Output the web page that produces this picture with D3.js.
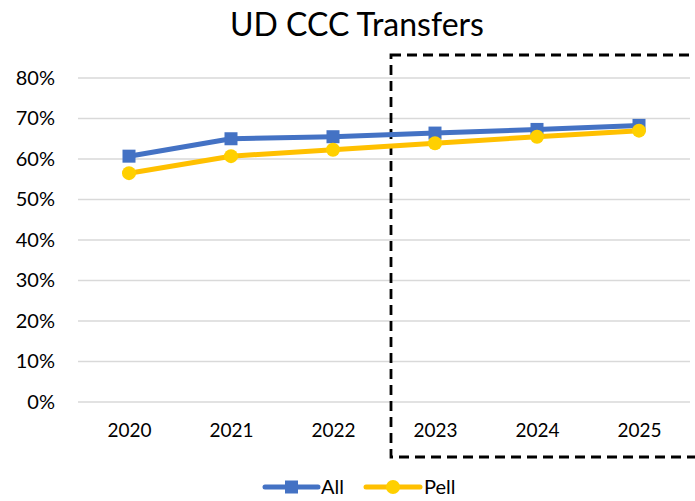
<!DOCTYPE html>
<html>
<head>
<meta charset="utf-8">
<script src="https://cdn.jsdelivr.net/npm/d3@7"></script>
<style>
  body { margin: 0; background: #fff; }
  text { font-family: Lato, "Open Sans", "Liberation Sans", sans-serif; fill: #000; }
</style>
</head>
<body>
<svg width="695" height="501"></svg>
<script>
// chart data
var years = ["2020", "2021", "2022", "2023", "2024", "2025"];
var allValues = [0.607, 0.650, 0.655, 0.664, 0.673, 0.683];
var pellValues = [0.565, 0.607, 0.623, 0.639, 0.655, 0.670];
var yTicks = [0, 0.1, 0.2, 0.3, 0.4, 0.5, 0.6, 0.7, 0.8];
var projectedYears = ["2023", "2024", "2025"];

var svg = d3.select("svg");

var plotLeft = 78, plotRight = 690, plotTop = 78, plotBottom = 402;

var x = d3.scalePoint().domain(years).range([plotLeft, plotRight]).padding(0.5);
var y = d3.scaleLinear().domain([0, 0.8]).range([plotBottom, plotTop]);

// title
svg.append("text")
  .attr("x", 357)
  .attr("y", 36)
  .attr("text-anchor", "middle")
  .style("font-size", "32px")
  .text("UD CCC Transfers");

// gridlines
svg.selectAll(".grid")
  .data(yTicks)
  .enter().append("line")
  .attr("x1", plotLeft)
  .attr("x2", plotRight)
  .attr("y1", d => y(d))
  .attr("y2", d => y(d))
  .attr("stroke", "#d9d9d9")
  .attr("stroke-width", 1.3);

// y axis labels
var yAxis = d3.axisLeft(y).tickValues(yTicks).tickFormat(d3.format(".0%")).tickSize(0).tickPadding(23);
var yg = svg.append("g").attr("transform", "translate(" + plotLeft + ",0)").call(yAxis);
yg.select(".domain").remove();
yg.selectAll("text").style("font-size", "20px").attr("fill", "#000");

// x axis labels
var xAxis = d3.axisBottom(x).tickSize(0).tickPadding(22);
var xg = svg.append("g").attr("transform", "translate(0," + plotBottom + ")").call(xAxis);
xg.select(".domain").remove();
xg.selectAll("text").style("font-size", "19px").attr("fill", "#000");

// dashed box around the projected years
var bandHalf = x.step() / 2;
svg.append("rect")
  .attr("x", x(projectedYears[0]) - bandHalf + 7)
  .attr("y", 55)
  .attr("width", 400)
  .attr("height", 402)
  .attr("fill", "none")
  .attr("stroke", "#000")
  .attr("stroke-width", 2.8)
  .attr("stroke-dasharray", "10,6");

var line = d3.line()
  .x((d, i) => x(years[i]))
  .y(d => y(d));

// All series
svg.append("path")
  .datum(allValues)
  .attr("d", line)
  .attr("fill", "none")
  .attr("stroke", "#4472C4")
  .attr("stroke-width", 5)
  .attr("stroke-linejoin", "round");

svg.selectAll(".allMark")
  .data(allValues)
  .enter().append("rect")
  .attr("x", (d, i) => x(years[i]) - 6.5)
  .attr("y", d => y(d) - 6.5)
  .attr("width", 13)
  .attr("height", 13)
  .attr("fill", "#4472C4");

// Pell series
svg.append("path")
  .datum(pellValues)
  .attr("d", line)
  .attr("fill", "none")
  .attr("stroke", "#FFC000")
  .attr("stroke-width", 5)
  .attr("stroke-linejoin", "round");

svg.selectAll(".pellMark")
  .data(pellValues)
  .enter().append("circle")
  .attr("cx", (d, i) => x(years[i]))
  .attr("cy", d => y(d))
  .attr("r", 7)
  .attr("fill", "#FFD000");

// legend
var legend = svg.append("g").attr("transform", "translate(0,487)");
legend.append("line").attr("x1", 265).attr("x2", 318).attr("stroke", "#4472C4").attr("stroke-width", 5).attr("stroke-linecap", "round");
legend.append("rect").attr("x", 285).attr("y", -6.5).attr("width", 13).attr("height", 13).attr("fill", "#4472C4");
legend.append("text").attr("x", 321).attr("y", 7).style("font-size", "20px").text("All");
legend.append("line").attr("x1", 366).attr("x2", 420).attr("stroke", "#FFC000").attr("stroke-width", 5).attr("stroke-linecap", "round");
legend.append("circle").attr("cx", 393).attr("cy", 0).attr("r", 7).attr("fill", "#FFD000");
legend.append("text").attr("x", 424).attr("y", 7).style("font-size", "20px").text("Pell");
</script>
</body>
</html>
